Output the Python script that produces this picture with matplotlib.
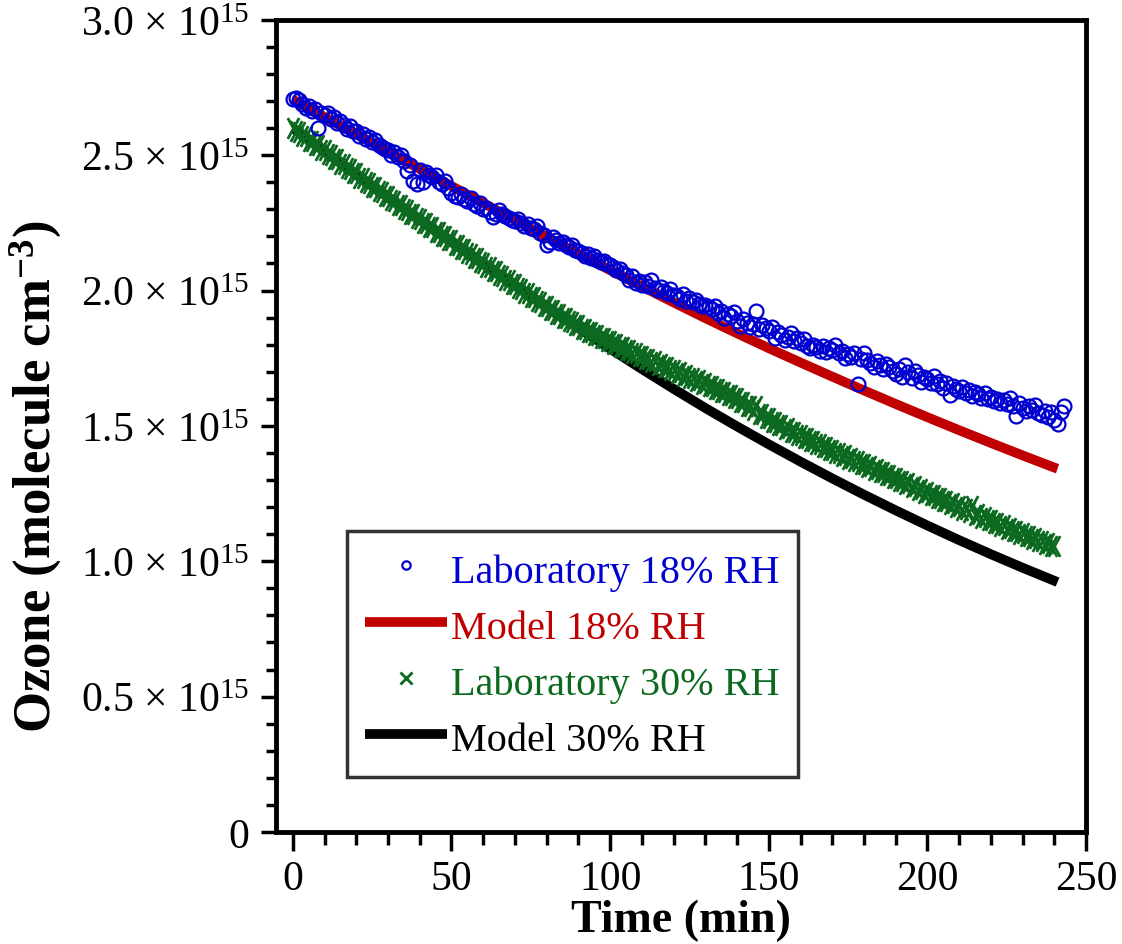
import matplotlib
matplotlib.use('Agg')
import matplotlib.pyplot as plt
from matplotlib.path import Path
from matplotlib.ticker import MultipleLocator, FuncFormatter

plt.rcParams['font.family'] = 'Liberation Serif'
plt.rcParams['mathtext.fontset'] = 'custom'
plt.rcParams['mathtext.rm'] = 'Liberation Serif'
plt.rcParams['mathtext.it'] = 'Liberation Serif:italic'
plt.rcParams['mathtext.bf'] = 'Liberation Serif:bold'

# ozone in units of 1e15 molecule cm-3, time in minutes
lab18_time = list(range(0, 244))
lab18_ozone = [
    2.706, 2.712, 2.704, 2.688, 2.676, 2.682, 2.664, 2.670, 2.602, 2.655,
    2.648, 2.656, 2.632, 2.640, 2.618, 2.626, 2.612, 2.598, 2.606, 2.590,
    2.588, 2.572, 2.580, 2.560, 2.566, 2.548, 2.556, 2.538, 2.530, 2.524,
    2.518, 2.502, 2.510, 2.494, 2.500, 2.478, 2.440, 2.462, 2.405, 2.395,
    2.445, 2.402, 2.436, 2.425, 2.418, 2.428, 2.400, 2.392, 2.404, 2.380,
    2.362, 2.350, 2.344, 2.356, 2.338, 2.330, 2.342, 2.318, 2.312, 2.324,
    2.300, 2.306, 2.290, 2.270, 2.282, 2.296, 2.284, 2.275, 2.268, 2.262,
    2.258, 2.264, 2.250, 2.240, 2.246, 2.232, 2.226, 2.238, 2.214, 2.205,
    2.168, 2.180, 2.196, 2.186, 2.174, 2.180, 2.168, 2.162, 2.170, 2.150,
    2.146, 2.140, 2.128, 2.136, 2.120, 2.126, 2.112, 2.104, 2.110, 2.098,
    2.094, 2.088, 2.074, 2.080, 2.066, 2.058, 2.040, 2.052, 2.028, 2.034,
    2.022, 2.030, 2.016, 2.040, 2.008, 2.002, 2.012, 1.998, 1.990, 2.004,
    1.984, 1.978, 1.970, 1.986, 1.962, 1.972, 1.958, 1.964, 1.950, 1.944,
    1.948, 1.938, 1.930, 1.942, 1.918, 1.926, 1.900, 1.914, 1.906, 1.922,
    1.888, 1.870, 1.894, 1.880, 1.866, 1.876, 1.926, 1.858, 1.872, 1.862,
    1.852, 1.866, 1.824, 1.846, 1.836, 1.818, 1.830, 1.842, 1.812, 1.826,
    1.808, 1.820, 1.796, 1.786, 1.800, 1.790, 1.778, 1.794, 1.772, 1.786,
    1.780, 1.800, 1.768, 1.776, 1.750, 1.766, 1.756, 1.770, 1.656, 1.748,
    1.770, 1.742, 1.732, 1.716, 1.740, 1.724, 1.710, 1.730, 1.718, 1.702,
    1.690, 1.712, 1.682, 1.724, 1.698, 1.676, 1.702, 1.688, 1.664, 1.680,
    1.672, 1.660, 1.684, 1.654, 1.666, 1.640, 1.658, 1.614, 1.648, 1.636,
    1.628, 1.644, 1.620, 1.632, 1.610, 1.626, 1.616, 1.604, 1.622, 1.598,
    1.606, 1.592, 1.600, 1.586, 1.596, 1.580, 1.604, 1.572, 1.538, 1.584,
    1.566, 1.554, 1.572, 1.560, 1.578, 1.546, 1.540, 1.556, 1.534, 1.550,
    1.520, 1.506, 1.552, 1.572,
]

lab30_time = list(range(0, 241))
lab30_ozone = [
    2.602, 2.588, 2.586, 2.570, 2.569, 2.552, 2.553, 2.536, 2.537, 2.519,
    2.518, 2.503, 2.501, 2.485, 2.484, 2.468, 2.467, 2.452, 2.450, 2.434,
    2.433, 2.417, 2.416, 2.400, 2.399, 2.384, 2.382, 2.366, 2.365, 2.350,
    2.348, 2.333, 2.332, 2.316, 2.315, 2.300, 2.299, 2.284, 2.282, 2.267,
    2.266, 2.251, 2.250, 2.235, 2.234, 2.218, 2.217, 2.202, 2.201, 2.186,
    2.185, 2.170, 2.169, 2.153, 2.152, 2.137, 2.136, 2.121, 2.119, 2.104,
    2.103, 2.088, 2.087, 2.072, 2.071, 2.056, 2.055, 2.040, 2.039, 2.024,
    2.023, 2.008, 2.007, 1.992, 1.991, 1.976, 1.975, 1.960, 1.959, 1.944,
    1.943, 1.929, 1.929, 1.914, 1.914, 1.900, 1.900, 1.886, 1.885, 1.871,
    1.871, 1.858, 1.859, 1.847, 1.848, 1.835, 1.836, 1.823, 1.825, 1.812,
    1.813, 1.801, 1.802, 1.790, 1.791, 1.779, 1.780, 1.768, 1.769, 1.757,
    1.758, 1.746, 1.748, 1.736, 1.738, 1.726, 1.728, 1.716, 1.718, 1.706,
    1.708, 1.696, 1.698, 1.686, 1.688, 1.676, 1.678, 1.666, 1.668, 1.656,
    1.658, 1.646, 1.647, 1.635, 1.636, 1.624, 1.625, 1.613, 1.614, 1.602,
    1.603, 1.589, 1.588, 1.574, 1.573, 1.559, 1.572, 1.544, 1.543, 1.529,
    1.528, 1.515, 1.516, 1.502, 1.503, 1.490, 1.491, 1.478, 1.478, 1.465,
    1.466, 1.454, 1.455, 1.443, 1.444, 1.432, 1.433, 1.421, 1.422, 1.410,
    1.411, 1.399, 1.401, 1.389, 1.391, 1.379, 1.381, 1.369, 1.371, 1.359,
    1.361, 1.349, 1.351, 1.338, 1.340, 1.328, 1.330, 1.318, 1.319, 1.307,
    1.309, 1.297, 1.298, 1.286, 1.288, 1.276, 1.277, 1.265, 1.267, 1.254,
    1.256, 1.244, 1.245, 1.233, 1.235, 1.223, 1.224, 1.212, 1.214, 1.201,
    1.203, 1.191, 1.193, 1.181, 1.205, 1.171, 1.173, 1.161, 1.163, 1.151,
    1.153, 1.141, 1.143, 1.131, 1.133, 1.121, 1.123, 1.111, 1.113, 1.101,
    1.103, 1.092, 1.094, 1.083, 1.085, 1.074, 1.076, 1.065, 1.067, 1.056,
    1.058,
]

model_time = [0, 10, 20, 30, 40, 50, 60, 70, 80, 90, 100, 110, 120, 130,
              140, 150, 160, 170, 180, 190, 200, 210, 220, 230, 240, 241]
model18_ozone = [2.705, 2.641, 2.577, 2.513, 2.449, 2.386, 2.323, 2.260, 2.198,
                 2.136, 2.075, 2.015, 1.956, 1.898, 1.842, 1.787, 1.734, 1.682,
                 1.631, 1.581, 1.532, 1.484, 1.437, 1.391, 1.346, 1.342]
model30_ozone = [2.600, 2.514, 2.429, 2.345, 2.262, 2.180, 2.099, 2.019, 1.940,
                 1.862, 1.785, 1.710, 1.637, 1.566, 1.498, 1.432, 1.368, 1.306,
                 1.246, 1.188, 1.132, 1.078, 1.026, 0.976, 0.928, 0.923]

blue = '#0000d0'
red = '#c00000'
green = '#0b6a1f'

# the "x" symbols in the original are drawn taller than wide
tall_x = Path([(-0.55, -1), (0.55, 1), (-0.55, 1), (0.55, -1)],
              [Path.MOVETO, Path.LINETO, Path.MOVETO, Path.LINETO])

fig = plt.figure(figsize=(11.22, 9.45), dpi=100)
ax = fig.add_axes([0.246, 0.1185, 0.722, 0.8595])

ax.plot(lab18_time, lab18_ozone, 'o', ms=10, mfc='none', mec=blue, mew=1.6,
        color=blue, label='Laboratory 18% RH', zorder=4)
ax.plot(model_time, model18_ozone, '-', color=red, lw=7,
        solid_capstyle='butt', label='Model 18% RH', zorder=2)
ax.plot(lab30_time, lab30_ozone, linestyle='none', marker=tall_x, ms=15,
        mew=2, color=green, label='Laboratory 30% RH', zorder=3)
ax.plot(model_time, model30_ozone, '-', color='black', lw=7,
        solid_capstyle='butt', label='Model 30% RH', zorder=1)

ax.set_xlim(-5.3, 250)
ax.set_ylim(0, 3.0)
ax.xaxis.set_major_locator(MultipleLocator(50))
ax.xaxis.set_minor_locator(MultipleLocator(10))
ax.yaxis.set_major_locator(MultipleLocator(0.5))
ax.yaxis.set_minor_locator(MultipleLocator(0.1))


def sci_label(v, pos):
    if abs(v) < 1e-9:
        return '0'
    return '%.1f × 10$^{15}$' % v


ax.yaxis.set_major_formatter(FuncFormatter(sci_label))

for s in ax.spines.values():
    s.set_linewidth(3.5)
ax.tick_params(axis='both', which='both', direction='out', top=False,
               right=False, labelsize=30, width=2.5)
ax.tick_params(axis='x', which='major', length=14, pad=6)
ax.tick_params(axis='x', which='minor', length=9)
ax.tick_params(axis='y', which='major', length=11, pad=8)
ax.tick_params(axis='y', which='minor', length=7)

ax.set_xlabel('Time (min)', fontsize=33, fontweight='bold', labelpad=0)
ax.set_ylabel('Ozone (molecule cm$^{\\mathbf{-3}}$)', fontsize=38,
              fontweight='bold')
ax.yaxis.set_label_coords(-0.262, 0.438)

leg = ax.legend(loc='lower left', bbox_to_anchor=(0.0877, 0.0677),
                borderaxespad=0, fontsize=29, frameon=True, fancybox=False,
                edgecolor='black', handlelength=2.05, handletextpad=0.1,
                handleheight=1.1, borderpad=0.44, labelspacing=0.35)
leg.get_frame().set_linewidth(2.5)
leg.legend_handles[0].set_markersize(6)
leg.legend_handles[2].set_markersize(8)
leg.legend_handles[2].set_marker('x')
for txt, c in zip(leg.get_texts(), [blue, red, green, 'black']):
    txt.set_color(c)

fig.savefig('out.png', dpi=100)
